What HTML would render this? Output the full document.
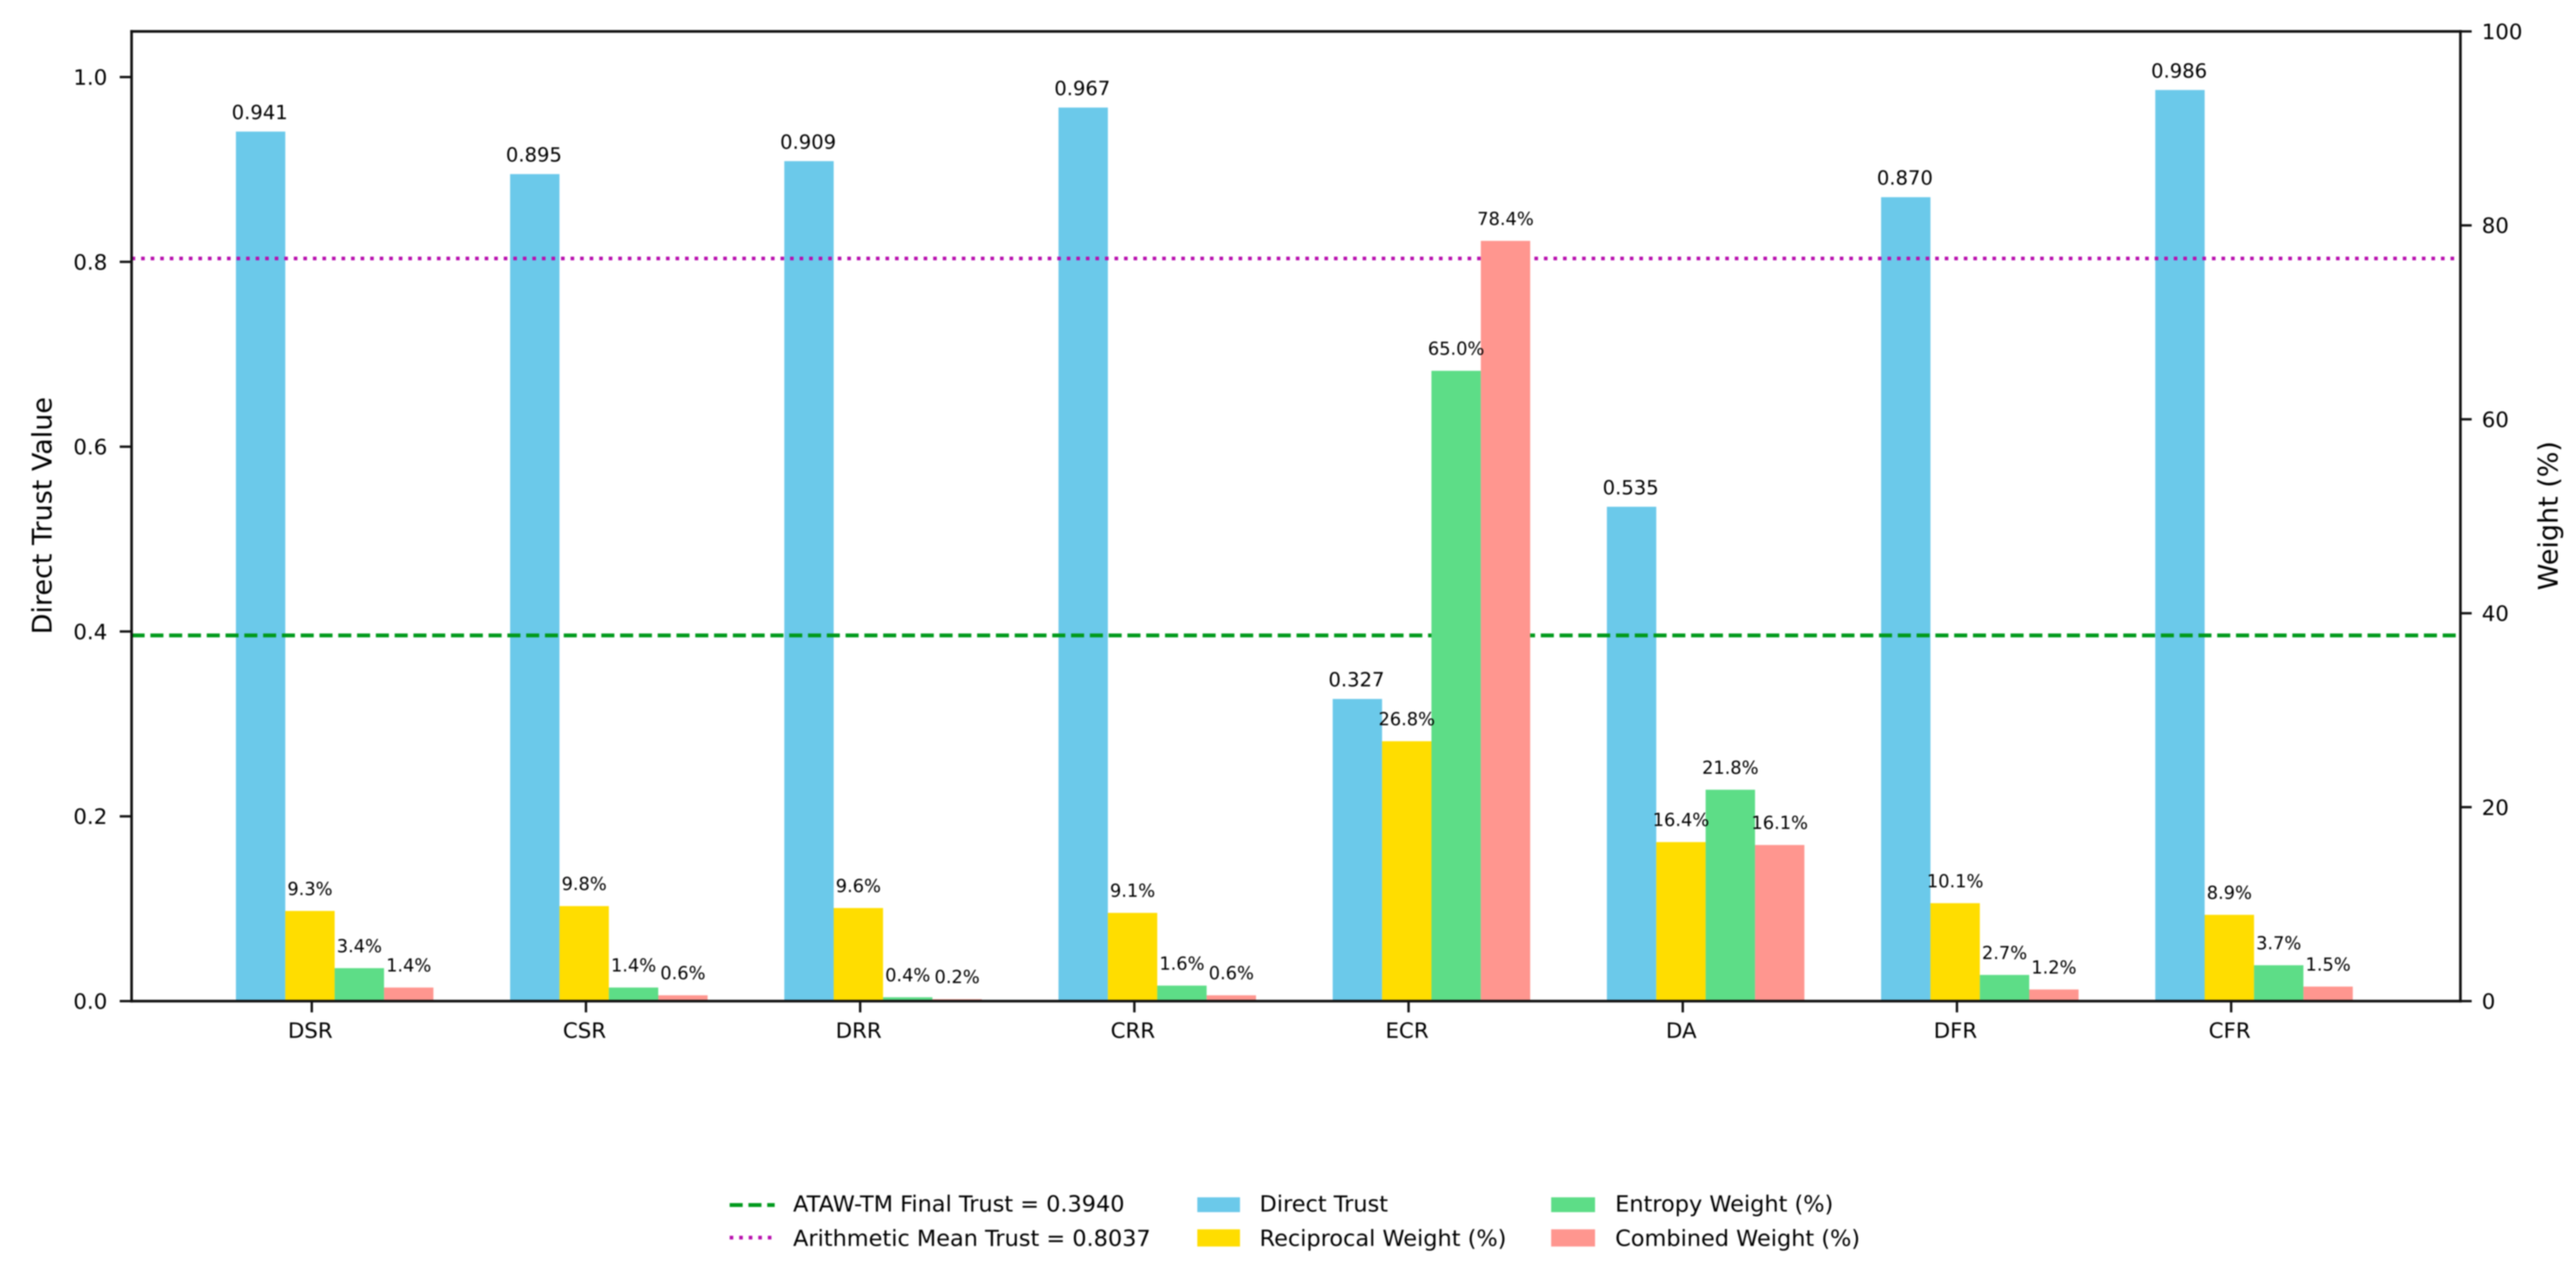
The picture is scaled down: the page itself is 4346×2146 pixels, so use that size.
<!DOCTYPE html>
<html lang="en">
<head>
<meta charset="utf-8">
<title>Direct Trust and Weights Chart</title>
<style>
html,body{margin:0;padding:0;background:#fff;width:4346px;height:2146px;overflow:hidden}
svg{display:block;filter:blur(1.1px)}
text{font-family:"DejaVu Sans","Liberation Sans",sans-serif;fill:#000}
.tick{font-size:36px}
.axis-title{font-size:45.5px}
.val{font-size:33px;text-anchor:middle}
.pct{font-size:30px;text-anchor:middle}
.leg{font-size:37.8px}
</style>
</head>
<body>
<svg id="chart" xmlns="http://www.w3.org/2000/svg" width="4346" height="2146" viewBox="0 0 4346 2146">
  <rect x="0" y="0" width="4346" height="2146" fill="#ffffff"/>
  <g id="ax1"></g>
  <g id="ax2"></g>
  <g id="axes"></g>
  <text class="axis-title" text-anchor="middle" transform="translate(87,870) rotate(-90)">Direct Trust Value</text>
  <text class="axis-title" text-anchor="middle" transform="translate(4315,870) rotate(-90)">Weight (%)</text>
  <g>
    <line x1="1231" x2="1307" y1="2033" y2="2033" stroke="#009a1c" stroke-width="6.5" stroke-dasharray="22 9.7"/>
    <text class="leg" x="1338" y="2044">ATAW-TM Final Trust = 0.3940</text>
    <line x1="1231" x2="1307" y1="2088" y2="2088" stroke="#b80fae" stroke-width="6.2" stroke-dasharray="6.1 10"/>
    <text class="leg" x="1338" y="2102">Arithmetic Mean Trust = 0.8037</text>
    <rect x="2020" y="2020" width="72" height="25" fill="#6bc9ea"/>
    <text class="leg" x="2125" y="2044">Direct Trust</text>
    <rect x="2020" y="2074" width="72" height="29" fill="#ffdd00"/>
    <text class="leg" x="2125" y="2102">Reciprocal Weight (%)</text>
    <rect x="2617" y="2020" width="74" height="25" fill="#5ddd87"/>
    <text class="leg" x="2725" y="2044">Entropy Weight (%)</text>
    <rect x="2617" y="2074" width="74" height="29" fill="#ff968f"/>
    <text class="leg" x="2725" y="2102">Combined Weight (%)</text>
  </g>
</svg>
<script>
const categories = ["DSR", "CSR", "DRR", "CRR", "ECR", "DA", "DFR", "CFR"];
const directTrust = [0.941, 0.895, 0.909, 0.967, 0.327, 0.535, 0.870, 0.986];
const reciprocalWeight = [9.3, 9.8, 9.6, 9.1, 26.8, 16.4, 10.1, 8.9];
const entropyWeight = [3.4, 1.4, 0.4, 1.6, 65.0, 21.8, 2.7, 3.7];
const combinedWeight = [1.4, 0.6, 0.2, 0.6, 78.4, 16.1, 1.2, 1.5];
const leftTicks = [0.0, 0.2, 0.4, 0.6, 0.8, 1.0];
const rightTicks = [0, 20, 40, 60, 80, 100];
const finalTrust = 0.3958;
const meanTrust = 0.8037;

const NS = "http://www.w3.org/2000/svg";
const plot = {left: 222, right: 4151, top: 53, bottom: 1689};
const leftMax = 1.0494;
const rightMax = 100;
const groupStep = 462.6;
const firstTick = 526;
const barWidth = 83.3;
const barShift = -128;

function yLeft(v) { return plot.bottom - (v / leftMax) * (plot.bottom - plot.top); }
function yRight(v) { return plot.bottom - (v / rightMax) * (plot.bottom - plot.top); }
function xTick(i) { return firstTick + i * groupStep; }
function xBar(i, slot) { return xTick(i) + barShift + slot * barWidth; }

function make(tag, attrs, parent, content) {
  const el = document.createElementNS(NS, tag);
  for (const k in attrs) el.setAttribute(k, attrs[k]);
  if (content !== undefined) el.textContent = content;
  parent.appendChild(el);
  return el;
}

const ax1 = document.getElementById("ax1");
const ax2 = document.getElementById("ax2");
const axes = document.getElementById("axes");

function drawBars(values, slot, color, yFn, layer, seriesName) {
  values.forEach(function (v, i) {
    const top = yFn(v);
    const bar = make("rect", {x: xBar(i, slot), y: top, width: barWidth, height: plot.bottom - top, fill: color}, layer);
    
    
  });
}

function drawLabels(values, slot, yFn, layer, seriesName, cls, gap, shift, fmt) {
  values.forEach(function (v, i) {
    const label = make("text", {x: xBar(i, slot) + barWidth / 2 + shift, y: yFn(v) - gap, "class": cls}, layer, fmt(v));
    
    
  });
}

function pct(v) { return v.toFixed(1) + "%"; }

drawBars(directTrust, 0, "#6bc9ea", yLeft, ax1, "direct-trust");

const finalLine = make("line", {x1: plot.left, x2: plot.right, y1: yLeft(finalTrust), y2: yLeft(finalTrust), stroke: "#009a1c", "stroke-width": 6.5, "stroke-dasharray": "22 9.7"}, ax1);


const meanLine = make("line", {x1: plot.left, x2: plot.right, y1: yLeft(meanTrust), y2: yLeft(meanTrust), stroke: "#b80fae", "stroke-width": 6.2, "stroke-dasharray": "6.1 10"}, ax1);



drawLabels(directTrust, 0, yLeft, ax1, "direct-trust", "val", 21, -1.5, function (v) { return v.toFixed(3); });

drawBars(reciprocalWeight, 1, "#ffdd00", yRight, ax2, "reciprocal");
drawBars(entropyWeight, 2, "#5ddd87", yRight, ax2, "entropy");
drawBars(combinedWeight, 3, "#ff968f", yRight, ax2, "combined");
drawLabels(reciprocalWeight, 1, yRight, ax2, "reciprocal", "pct", 27, 0, pct);
drawLabels(entropyWeight, 2, yRight, ax2, "entropy", "pct", 27, 0, pct);
drawLabels(combinedWeight, 3, yRight, ax2, "combined", "pct", 27, 0, pct);

const spines = [
  ["left-spine", plot.left, plot.top, plot.left, plot.bottom],
  ["right-spine", plot.right, plot.top, plot.right, plot.bottom],
  ["top-spine", plot.left, plot.top, plot.right, plot.top],
  ["bottom-spine", plot.left, plot.bottom, plot.right, plot.bottom]
];
spines.forEach(function (s) {
  const line = make("line", {x1: s[1], y1: s[2], x2: s[3], y2: s[4], stroke: "#111", "stroke-width": 4.4, "stroke-linecap": "square"}, axes);
  
  
});

leftTicks.forEach(function (t) {
  const y = yLeft(t);
  const mark = make("line", {x1: plot.left - 20, x2: plot.left, y1: y, y2: y, stroke: "#111", "stroke-width": 4}, axes);
  
  
  const label = make("text", {x: plot.left - 41, y: y + 13, "class": "tick", "text-anchor": "end"}, axes, t.toFixed(1));
  
  
});

rightTicks.forEach(function (t) {
  const y = yRight(t);
  const mark = make("line", {x1: plot.right, x2: plot.right + 19, y1: y, y2: y, stroke: "#111", "stroke-width": 4}, axes);
  
  
  const label = make("text", {x: plot.right + 36, y: y + 13, "class": "tick"}, axes, String(t));
  
  
});

categories.forEach(function (c, i) {
  const x = xTick(i);
  const mark = make("line", {x1: x, x2: x, y1: plot.bottom, y2: plot.bottom + 19, stroke: "#111", "stroke-width": 4}, axes);
  
  
  const label = make("text", {x: x - 2.5, y: 1751, "class": "tick", "text-anchor": "middle"}, axes, c);
  
  
});
</script>
</body>
</html>
